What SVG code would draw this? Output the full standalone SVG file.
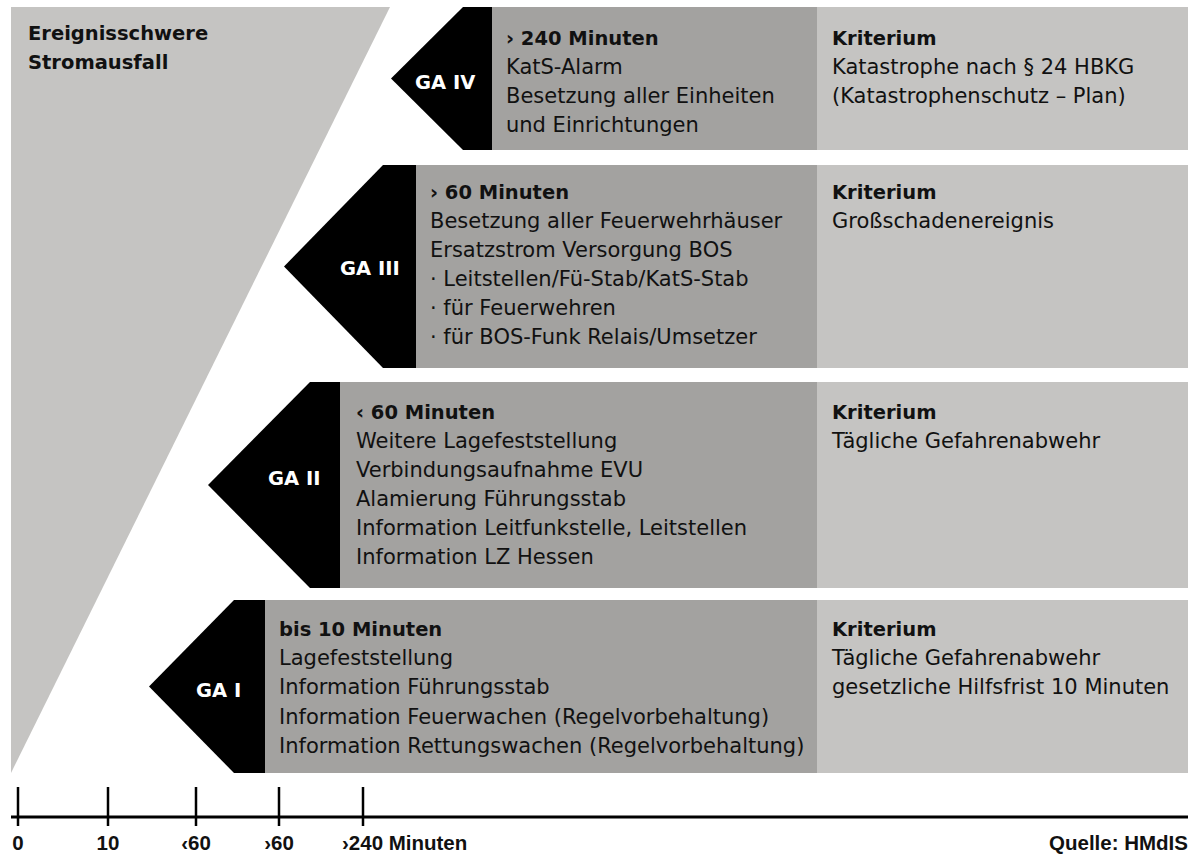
<svg xmlns="http://www.w3.org/2000/svg" width="1199" height="857" viewBox="0 0 1199 857">
  <style>
    .light { fill: #c5c4c2; }
    .dark { fill: #a3a2a0; }
    .arrow { fill: #000000; }
    text { font-family: "DejaVu Sans", "Liberation Sans", sans-serif; fill: #111111; }
    .t { font-size: 21px; }
    .b { font-size: 19.5px; font-weight: bold; }
    .lab { font-size: 19.5px; font-weight: bold; fill: #ffffff; }
    .tl { font-family: "Liberation Sans", Arial, sans-serif; font-size: 20.5px; font-weight: bold; }
    .axis { stroke: #000000; stroke-width: 3; fill: none; }
    .tick { stroke: #000000; stroke-width: 2.5; fill: none; }
  </style>
  <rect width="1199" height="857" fill="#ffffff"/>

  <g id="ereignisschwere">
    <polygon class="light" points="11,7 390,7 11,773"/>
    <text class="b" x="28" y="40">Ereignisschwere</text>
    <text class="b" x="28" y="69">Stromausfall</text>
  </g>

  <g id="ga4">
    <rect class="dark" x="492" y="7" width="325" height="143"/>
    <rect class="light" x="817" y="7" width="371" height="143"/>
    <polygon class="arrow" points="463,7 492,7 492,150 463,150 391,78.5"/>
    <text class="lab" x="415" y="89">GA IV</text>
    <text class="b" x="506" y="45">› 240 Minuten</text>
    <text class="t" x="506" y="74">KatS-Alarm</text>
    <text class="t" x="506" y="103">Besetzung aller Einheiten</text>
    <text class="t" x="506" y="132">und Einrichtungen</text>
    <text class="b" x="832" y="45">Kriterium</text>
    <text class="t" x="832" y="74">Katastrophe nach § 24 HBKG</text>
    <text class="t" x="832" y="103">(Katastrophenschutz – Plan)</text>
  </g>

  <g id="ga3">
    <rect class="dark" x="416" y="165" width="401" height="203"/>
    <rect class="light" x="817" y="165" width="371" height="203"/>
    <polygon class="arrow" points="383,165 416,165 416,368 383,368 284,266.5"/>
    <text class="lab" x="340" y="275">GA III</text>
    <text class="b" x="430" y="199">› 60 Minuten</text>
    <text class="t" x="430" y="228">Besetzung aller Feuerwehrhäuser</text>
    <text class="t" x="430" y="257">Ersatzstrom Versorgung BOS</text>
    <text class="t" x="430" y="286">· Leitstellen/Fü-Stab/KatS-Stab</text>
    <text class="t" x="430" y="315">· für Feuerwehren</text>
    <text class="t" x="430" y="344">· für BOS-Funk Relais/Umsetzer</text>
    <text class="b" x="832" y="199">Kriterium</text>
    <text class="t" x="832" y="228">Großschadenereignis</text>
  </g>

  <g id="ga2">
    <rect class="dark" x="340" y="382" width="477" height="206"/>
    <rect class="light" x="817" y="382" width="371" height="206"/>
    <polygon class="arrow" points="310,382 340,382 340,588 310,588 208,485"/>
    <text class="lab" x="268" y="485">GA II</text>
    <text class="b" x="356" y="419">‹ 60 Minuten</text>
    <text class="t" x="356" y="448">Weitere Lagefeststellung</text>
    <text class="t" x="356" y="477">Verbindungsaufnahme EVU</text>
    <text class="t" x="356" y="506">Alamierung Führungsstab</text>
    <text class="t" x="356" y="535">Information Leitfunkstelle, Leitstellen</text>
    <text class="t" x="356" y="564">Information LZ Hessen</text>
    <text class="b" x="832" y="419">Kriterium</text>
    <text class="t" x="832" y="448">Tägliche Gefahrenabwehr</text>
  </g>

  <g id="ga1">
    <rect class="dark" x="265" y="600" width="552" height="173"/>
    <rect class="light" x="817" y="600" width="371" height="173"/>
    <polygon class="arrow" points="234,600 265,600 265,773 234,773 149,686.5"/>
    <text class="lab" x="196" y="697">GA I</text>
    <text class="b" x="279" y="636">bis 10 Minuten</text>
    <text class="t" x="279" y="665">Lagefeststellung</text>
    <text class="t" x="279" y="694">Information Führungsstab</text>
    <text class="t" x="279" y="724">Information Feuerwachen (Regelvorbehaltung)</text>
    <text class="t" x="279" y="753">Information Rettungswachen (Regelvorbehaltung)</text>
    <text class="b" x="832" y="636">Kriterium</text>
    <text class="t" x="832" y="665">Tägliche Gefahrenabwehr</text>
    <text class="t" x="832" y="694">gesetzliche Hilfsfrist 10 Minuten</text>
  </g>

  <g id="timeline">
    <line class="axis" x1="11" y1="817" x2="1188" y2="817"/>
    <line class="tick" x1="18" y1="787" x2="18" y2="826"/>
    <line class="tick" x1="108" y1="787" x2="108" y2="826"/>
    <line class="tick" x1="196" y1="787" x2="196" y2="826"/>
    <line class="tick" x1="279" y1="787" x2="279" y2="826"/>
    <line class="tick" x1="363" y1="787" x2="363" y2="826"/>
    <text class="tl" x="18" y="850" text-anchor="middle">0</text>
    <text class="tl" x="108" y="850" text-anchor="middle">10</text>
    <text class="tl" x="196" y="850" text-anchor="middle">‹60</text>
    <text class="tl" x="279" y="850" text-anchor="middle">›60</text>
    <text class="tl" x="342" y="850">›240 Minuten</text>
    <text class="tl" x="1188" y="850" text-anchor="end">Quelle: HMdIS</text>
  </g>
</svg>
